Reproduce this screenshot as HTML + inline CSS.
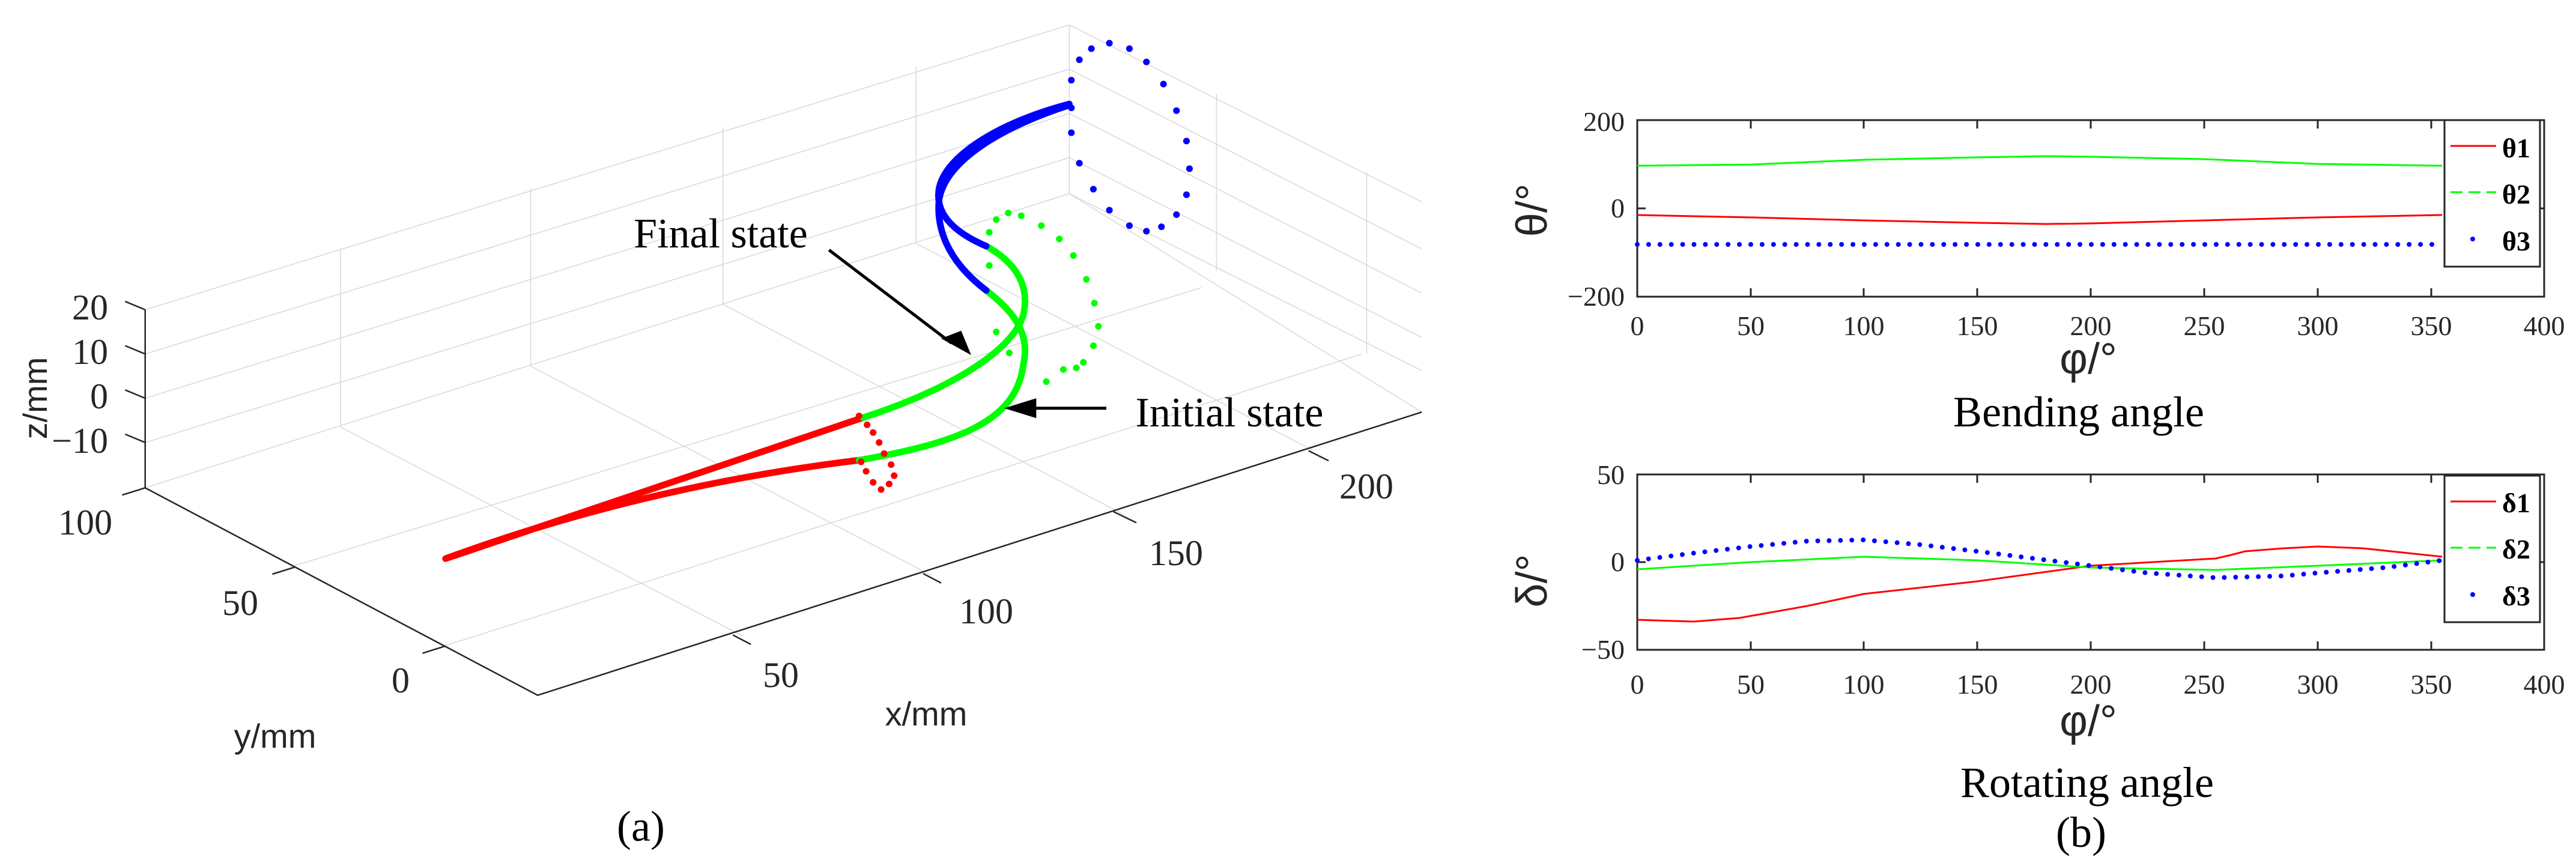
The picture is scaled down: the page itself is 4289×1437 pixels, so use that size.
<!DOCTYPE html>
<html><head><meta charset="utf-8"><style>
html,body{margin:0;padding:0;background:#fff;width:4289px;height:1437px;overflow:hidden}
svg{display:block}
.t{font-family:"Liberation Serif",serif}
.s{font-family:"Liberation Sans",sans-serif}
</style></head><body>
<svg width="4289" height="1437" viewBox="0 0 4289 1437" xmlns="http://www.w3.org/2000/svg">
<!-- LEFT 3D PLOT in zoom coordinates -->
<g transform="scale(1.667,0.921)" fill="none">
 <g stroke="#d8d8d8" stroke-width="1.5" vector-effect="non-scaling-stroke">
  <!-- floor lines parallel to y axis -->
  <path vector-effect="non-scaling-stroke" d="M537 1257 L145 882 M742 1150 L340 772 M930 1040 L530 662 M1122 930 L722 550 M1312 815 L915 440 M1420 745 L1068 350"/>
  <!-- floor lines parallel to x axis -->
  <path vector-effect="non-scaling-stroke" d="M145 882 L1068 350 M290 1025 L1200 520 M440 1170 L1360 640"/>
  <!-- back wall (y max) -->
  <path vector-effect="non-scaling-stroke" d="M145 560 L1068 45 M145 640 L1068 125 M145 720 L1068 205 M145 800 L1068 285 M340 450 L340 772 M530 340 L530 662 M722 230 L722 550 M915 120 L915 440 M1068 45 L1068 350"/>
  <!-- right wall (x max) -->
  <path vector-effect="non-scaling-stroke" d="M1068 45 L1420 365 M1068 125 L1420 450 M1068 205 L1420 530 M1068 285 L1420 610 M1215 170 L1215 490 M1365 310 L1365 640 M1068 350 L1420 670"/>
 </g>
 <g stroke="#262626" stroke-width="2.5">
  <path vector-effect="non-scaling-stroke" d="M145 560 L145 882 L537 1257 L1420 745"/>
  <path vector-effect="non-scaling-stroke" d="M145 560 L125 545 M145 640 L125 625 M145 720 L125 705 M145 800 L125 785 M145 882 L122 895 M295 1025 L272 1038 M445 1168 L422 1181 M732 1148 L750 1165 M922 1037 L940 1054 M1112 925 L1135 945 M1307 815 L1327 833"/>
 </g>
 <!-- curves -->
 <g stroke-linecap="round" stroke-linejoin="round">
  <path vector-effect="non-scaling-stroke" stroke="#ff0000" stroke-width="11" d="M445 1010 L862 755 M445 1010 Q640 880 858 832"/>
  <path vector-effect="non-scaling-stroke" stroke="#00ff00" stroke-width="11" d="M862 755 C940 710 1010 640 1022 570 C1030 510 1010 470 985 445"/>
  <path vector-effect="non-scaling-stroke" stroke="#00ff00" stroke-width="11" d="M858 832 C960 800 1015 760 1022 660 C1030 600 1010 560 985 525"/>
  <path vector-effect="non-scaling-stroke" stroke="#0000ff" stroke-width="11" d="M985 445 C940 410 935 370 938 340 C945 280 1000 220 1068 188"/>
  <path vector-effect="non-scaling-stroke" stroke="#0000ff" stroke-width="11" d="M985 525 C945 470 935 410 938 360 C945 290 1000 230 1068 190"/>
 </g>
 <g stroke-linecap="round" stroke-width="11">
  <path vector-effect="non-scaling-stroke" stroke="#0000ff" d="M1108 78h.1M1090 88h.1M1078 108h.1M1070 145h.1M1070 195h.1M1070 240h.1M1078 295h.1M1092 342h.1M1108 380h.1M1128 408h.1M1145 418h.1M1160 410h.1M1175 388h.1M1185 352h.1M1188 305h.1M1185 255h.1M1175 200h.1M1162 152h.1M1145 112h.1M1128 88h.1"/>
  <path vector-effect="non-scaling-stroke" stroke="#00ff00" d="M1007 385h.1M1020 390h.1M1040 408h.1M1058 432h.1M1072 462h.1M1085 505h.1M1093 548h.1M1097 590h.1M1092 625h.1M1082 655h.1M1075 665h.1M1062 668h.1M1045 690h.1M988 420h.1M995 397h.1M988 480h.1M995 600h.1M1008 638h.1"/>
  <path vector-effect="non-scaling-stroke" stroke="#ff0000" d="M858 752h.1M866 768h.1M872 782h.1M878 800h.1M883 820h.1M890 840h.1M893 860h.1M888 875h.1M880 885h.1M872 872h.1M865 852h.1M860 835h.1"/>
 </g>
 <!-- arrows -->
 <path vector-effect="non-scaling-stroke" stroke="#000" stroke-width="5" d="M828 452 L950 620 M1105 738 L1025 738"/>
 <path fill="#000" d="M970 642 L940 612 L960 598 Z M1003 738 L1035 720 L1035 756 Z"/>
</g>
<!-- left labels -->
<g class="t" font-size="60" fill="#262626">
 <text x="180" y="532" text-anchor="end">20</text>
 <text x="180" y="606" text-anchor="end">10</text>
 <text x="180" y="680" text-anchor="end">0</text>
 <text x="180" y="754" text-anchor="end">−10</text>
 <text x="142" y="890" text-anchor="middle">100</text>
 <text x="400" y="1024" text-anchor="middle">50</text>
 <text x="667" y="1153" text-anchor="middle">0</text>
 <text x="1300" y="1144" text-anchor="middle">50</text>
 <text x="1642" y="1038" text-anchor="middle">100</text>
 <text x="1958" y="941" text-anchor="middle">150</text>
 <text x="2275" y="830" text-anchor="middle">200</text>
</g>
<text class="s" font-size="56" fill="#262626" transform="translate(78,663) rotate(-90)" text-anchor="middle">z/mm</text>
<text class="s" font-size="56" fill="#262626" x="458" y="1245" text-anchor="middle">y/mm</text>
<text class="s" font-size="56" fill="#262626" x="1542" y="1208" text-anchor="middle">x/mm</text>
<text class="t" font-size="70" x="1200" y="412" text-anchor="middle">Final state</text>
<text class="t" font-size="70" x="2047" y="710" text-anchor="middle">Initial state</text>
<text class="t" font-size="72" x="1067" y="1400" text-anchor="middle">(a)</text>

<!-- RIGHT PLOTS -->
<g fill="none" stroke="#262626" stroke-width="3">
 <rect x="2726" y="200" width="1510" height="294"/>
 <rect x="2726" y="790" width="1510" height="292"/>
 <path d="M2915 494v-14M3103 494v-14M3292 494v-14M3481 494v-14M3670 494v-14M3859 494v-14M4048 494v-14M2915 200v14M3103 200v14M3292 200v14M3481 200v14M3670 200v14M3859 200v14M4048 200v14M2726 347h14M4236 347h-14"/>
 <path d="M2915 1082v-14M3103 1082v-14M3292 1082v-14M3481 1082v-14M3670 1082v-14M3859 1082v-14M4048 1082v-14M2915 790v14M3103 790v14M3292 790v14M3481 790v14M3670 790v14M3859 790v14M4048 790v14M2726 936h14M4236 936h-14"/>
</g>
<g fill="none" stroke-width="3">
 <polyline stroke="#00ff00" points="2726,276 2915,274 3103,266 3292,262 3406,260 3481,261 3670,265 3859,273 4066,276"/>
 <polyline stroke="#ff0000" points="2726,358 2915,362 3103,367 3292,371 3406,373 3481,372 3670,367 3859,362 4066,358"/>
 <line stroke="#0000ff" stroke-width="8" stroke-linecap="round" stroke-dasharray="0 18.9" x1="2726" y1="407" x2="4066" y2="407"/>
 <polyline stroke="#ff0000" points="2726,1032 2820,1035 2896,1029 3009,1009 3103,989 3292,968 3481,942 3689,930 3715,924 3738,918 3802,913 3859,910 3934,913 4066,927"/>
 <polyline stroke="#00ff00" points="2726,948 2915,936 3103,927 3292,933 3481,945 3689,949 3859,942 4066,933"/>
 <polyline stroke="#0000ff" stroke-width="8" stroke-linecap="round" stroke-dasharray="0 18.9" points="2726,933 2820,921 2915,910 3009,901 3103,899 3198,907 3292,918 3387,930 3481,942 3575,954 3689,962 3802,959 3859,954 3972,945 4066,933"/>
</g>
<!-- legends -->
<g>
 <rect x="4070" y="200" width="159" height="244" fill="#fff" stroke="#262626" stroke-width="3"/>
 <rect x="4070" y="792" width="159" height="244" fill="#fff" stroke="#262626" stroke-width="3"/>
 <g stroke-width="3">
  <line x1="4080" y1="243" x2="4156" y2="243" stroke="#ff0000"/>
  <line x1="4080" y1="320" x2="4156" y2="320" stroke="#00ff00" stroke-dasharray="20 10"/>
  <line x1="4080" y1="835" x2="4156" y2="835" stroke="#ff0000"/>
  <line x1="4080" y1="912" x2="4156" y2="912" stroke="#00ff00" stroke-dasharray="20 10"/>
 </g>
 <circle cx="4117" cy="398" r="4" fill="#0000ff"/>
 <circle cx="4117" cy="990" r="4" fill="#0000ff"/>
 <g class="t" font-size="46" font-weight="bold">
  <text x="4166" y="262">θ1</text><text x="4166" y="339">θ2</text><text x="4166" y="417">θ3</text>
  <text x="4166" y="853">δ1</text><text x="4166" y="930">δ2</text><text x="4166" y="1008">δ3</text>
 </g>
</g>
<g class="t" font-size="46" fill="#262626">
 <text x="2705" y="218" text-anchor="end">200</text>
 <text x="2705" y="362" text-anchor="end">0</text>
 <text x="2705" y="509" text-anchor="end">−200</text>
 <text x="2705" y="806" text-anchor="end">50</text>
 <text x="2705" y="951" text-anchor="end">0</text>
 <text x="2705" y="1097" text-anchor="end">−50</text>
 <g text-anchor="middle">
  <text x="2726" y="558">0</text><text x="2915" y="558">50</text><text x="3103" y="558">100</text><text x="3292" y="558">150</text><text x="3481" y="558">200</text><text x="3670" y="558">250</text><text x="3859" y="558">300</text><text x="4048" y="558">350</text><text x="4236" y="558">400</text>
  <text x="2726" y="1155">0</text><text x="2915" y="1155">50</text><text x="3103" y="1155">100</text><text x="3292" y="1155">150</text><text x="3481" y="1155">200</text><text x="3670" y="1155">250</text><text x="3859" y="1155">300</text><text x="4048" y="1155">350</text><text x="4236" y="1155">400</text>
 </g>
</g>
<g class="s" font-size="72" fill="#262626" text-anchor="middle">
 <text x="3477" y="622">φ/°</text>
 <text x="3477" y="1225">φ/°</text>
 <text transform="translate(2575,350) rotate(-90)">θ/°</text>
 <text transform="translate(2575,967) rotate(-90)">δ/°</text>
</g>
<g class="t" font-size="72" text-anchor="middle">
 <text x="3461" y="710">Bending angle</text>
 <text x="3475" y="1327">Rotating angle</text>
 <text x="3465" y="1410">(b)</text>
</g>
</svg>
</body></html>
